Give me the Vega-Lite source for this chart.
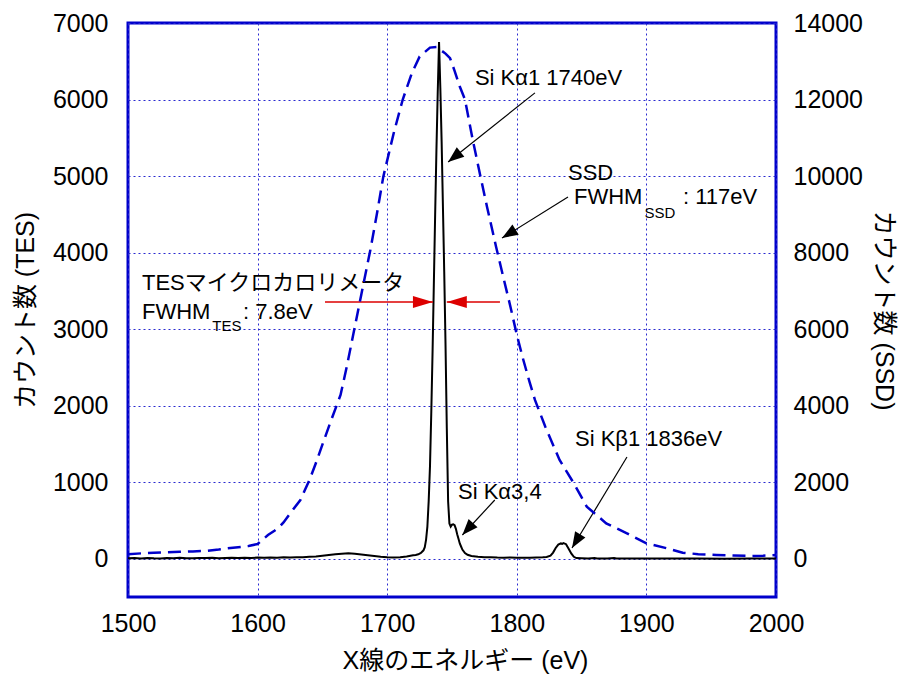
{
  "$schema": "https://vega.github.io/schema/vega-lite/v6.json",
  "width": 648,
  "height": 574,
  "autosize": "none",
  "padding": {"left": 128, "top": 23, "right": 122, "bottom": 80},
  "background": "white",
  "config": {
    "view": {"stroke": "#0000cc", "strokeWidth": 3},
    "font": "Liberation Sans, Noto Sans CJK JP",
    "axis": {
      "labelFont": "Liberation Sans",
      "labelFontSize": 25,
      "labelColor": "black",
      "labelFlush": false,
      "labelOverlap": false,
      "titleFont": "Liberation Sans, Noto Sans CJK JP",
      "titleFontSize": 25,
      "titleFontWeight": "normal",
      "titleColor": "black",
      "ticks": false,
      "tickSize": 0,
      "domain": false,
      "format": "d",
      "gridColor": "#2a2ad0",
      "gridDash": [2, 3],
      "gridWidth": 1,
      "gridOpacity": 1
    }
  },
  "datasets": {
    "tes": [
      {"E": 1500, "c": 5}, {"E": 1505, "c": 8}, {"E": 1510, "c": 3}, {"E": 1515, "c": 10}, {"E": 1520, "c": 6},
      {"E": 1525, "c": 4}, {"E": 1530, "c": 9}, {"E": 1535, "c": 5}, {"E": 1540, "c": 12}, {"E": 1545, "c": 7},
      {"E": 1550, "c": 5}, {"E": 1555, "c": 10}, {"E": 1560, "c": 8}, {"E": 1565, "c": 12}, {"E": 1570, "c": 6},
      {"E": 1575, "c": 10}, {"E": 1580, "c": 12}, {"E": 1585, "c": 8}, {"E": 1590, "c": 14}, {"E": 1595, "c": 10},
      {"E": 1600, "c": 15}, {"E": 1605, "c": 12}, {"E": 1610, "c": 16}, {"E": 1615, "c": 14}, {"E": 1620, "c": 18},
      {"E": 1625, "c": 15}, {"E": 1630, "c": 20}, {"E": 1635, "c": 18}, {"E": 1640, "c": 25}, {"E": 1645, "c": 30},
      {"E": 1650, "c": 40}, {"E": 1655, "c": 50}, {"E": 1660, "c": 60}, {"E": 1665, "c": 66}, {"E": 1670, "c": 70},
      {"E": 1675, "c": 65}, {"E": 1680, "c": 55}, {"E": 1685, "c": 45}, {"E": 1690, "c": 35}, {"E": 1695, "c": 25},
      {"E": 1700, "c": 18}, {"E": 1705, "c": 15}, {"E": 1710, "c": 20}, {"E": 1715, "c": 30}, {"E": 1720, "c": 45},
      {"E": 1722, "c": 50}, {"E": 1724, "c": 58}, {"E": 1726, "c": 75}, {"E": 1728, "c": 110}, {"E": 1729, "c": 150},
      {"E": 1730, "c": 250}, {"E": 1731, "c": 420}, {"E": 1732, "c": 750}, {"E": 1733, "c": 1200}, {"E": 1734, "c": 1900},
      {"E": 1735, "c": 2700}, {"E": 1736, "c": 3600}, {"E": 1737, "c": 4500}, {"E": 1738, "c": 5350}, {"E": 1739, "c": 6100},
      {"E": 1740, "c": 6750}, {"E": 1741, "c": 6150}, {"E": 1742, "c": 5450}, {"E": 1743, "c": 4600}, {"E": 1744, "c": 3750},
      {"E": 1745, "c": 2800}, {"E": 1746, "c": 1700}, {"E": 1747, "c": 750}, {"E": 1748, "c": 460}, {"E": 1749, "c": 420},
      {"E": 1750, "c": 445}, {"E": 1751, "c": 450}, {"E": 1752, "c": 440}, {"E": 1753, "c": 390}, {"E": 1754, "c": 320},
      {"E": 1755, "c": 260}, {"E": 1756, "c": 200}, {"E": 1757, "c": 160}, {"E": 1758, "c": 120}, {"E": 1760, "c": 75},
      {"E": 1762, "c": 52}, {"E": 1765, "c": 35}, {"E": 1770, "c": 25}, {"E": 1775, "c": 20}, {"E": 1780, "c": 18},
      {"E": 1785, "c": 15}, {"E": 1790, "c": 14}, {"E": 1795, "c": 15}, {"E": 1800, "c": 12}, {"E": 1805, "c": 14},
      {"E": 1810, "c": 12}, {"E": 1815, "c": 15}, {"E": 1820, "c": 18}, {"E": 1823, "c": 22}, {"E": 1826, "c": 40},
      {"E": 1828, "c": 80}, {"E": 1830, "c": 140}, {"E": 1832, "c": 185}, {"E": 1834, "c": 200}, {"E": 1835, "c": 195},
      {"E": 1836, "c": 205}, {"E": 1838, "c": 190}, {"E": 1840, "c": 130}, {"E": 1842, "c": 70}, {"E": 1844, "c": 25},
      {"E": 1846, "c": 8}, {"E": 1850, "c": 5}, {"E": 1855, "c": 3}, {"E": 1860, "c": 8}, {"E": 1862, "c": 2},
      {"E": 1865, "c": 4}, {"E": 1870, "c": 3}, {"E": 1875, "c": 8}, {"E": 1877, "c": 2}, {"E": 1880, "c": 3},
      {"E": 1890, "c": 2}, {"E": 1900, "c": 3}, {"E": 1920, "c": 2}, {"E": 1940, "c": 2}, {"E": 1960, "c": 1},
      {"E": 1980, "c": 2}, {"E": 2000, "c": 2}
    ],
    "ssd": [
      {"E": 1500, "c": 120}, {"E": 1510, "c": 140}, {"E": 1520, "c": 155}, {"E": 1530, "c": 167}, {"E": 1540, "c": 180},
      {"E": 1550, "c": 192}, {"E": 1560, "c": 205}, {"E": 1570, "c": 240}, {"E": 1577, "c": 272}, {"E": 1585, "c": 300},
      {"E": 1593, "c": 332}, {"E": 1600, "c": 384}, {"E": 1608, "c": 620}, {"E": 1613, "c": 730}, {"E": 1617, "c": 836},
      {"E": 1620, "c": 950}, {"E": 1625, "c": 1180}, {"E": 1633, "c": 1534}, {"E": 1640, "c": 2058}, {"E": 1645, "c": 2500},
      {"E": 1650, "c": 2980}, {"E": 1656, "c": 3550}, {"E": 1664, "c": 4280}, {"E": 1669, "c": 5050}, {"E": 1674, "c": 5892},
      {"E": 1680, "c": 6900}, {"E": 1687, "c": 8070}, {"E": 1692, "c": 9000}, {"E": 1697, "c": 9985}, {"E": 1705, "c": 11120},
      {"E": 1712, "c": 12000}, {"E": 1719, "c": 12689}, {"E": 1725, "c": 13122}, {"E": 1733, "c": 13357}, {"E": 1738, "c": 13370},
      {"E": 1741, "c": 13300}, {"E": 1745, "c": 13200}, {"E": 1748.5, "c": 13080}, {"E": 1752, "c": 12750}, {"E": 1756, "c": 12340},
      {"E": 1760, "c": 12000}, {"E": 1766, "c": 10945}, {"E": 1772, "c": 9985}, {"E": 1777, "c": 9201}, {"E": 1784, "c": 8155},
      {"E": 1790, "c": 7300}, {"E": 1795, "c": 6600}, {"E": 1800, "c": 5850}, {"E": 1805, "c": 5200}, {"E": 1810, "c": 4600},
      {"E": 1814, "c": 4150}, {"E": 1822, "c": 3450}, {"E": 1833, "c": 2580}, {"E": 1844, "c": 1971}, {"E": 1854, "c": 1360},
      {"E": 1869, "c": 925}, {"E": 1885, "c": 664}, {"E": 1900, "c": 402}, {"E": 1916, "c": 272}, {"E": 1928, "c": 157},
      {"E": 1940, "c": 120}, {"E": 1954, "c": 97}, {"E": 1967, "c": 85}, {"E": 1980, "c": 71}, {"E": 1990, "c": 80},
      {"E": 2000, "c": 97}
    ],
    "labels": [
      {"x": 1767.7, "y": 6283, "text": "Si Kα1 1740eV"},
      {"x": 1839.5, "y": 5041, "text": "SSD"},
      {"x": 1844.1, "y": 4727, "text": "FWHM"},
      {"x": 1928.2, "y": 4727, "text": ": 117eV"},
      {"x": 1510.8, "y": 3603, "text": "TESマイクロカロリメータ"},
      {"x": 1510.8, "y": 3224, "text": "FWHM"},
      {"x": 1588.7, "y": 3224, "text": ": 7.8eV"},
      {"x": 1754.6, "y": 872, "text": "Si Kα3,4"},
      {"x": 1844.9, "y": 1565, "text": "Si Kβ1 1836eV"}
    ],
    "subs": [
      {"x": 1898.5, "y": 4518, "text": "SSD"},
      {"x": 1565.0, "y": 3041, "text": "TES"}
    ],
    "arrows": [
      {"id": "ka1", "x": 1814, "y": 6087, "x2": 1747, "y2": 5183},
      {"id": "ssd", "x": 1839.5, "y": 4725, "x2": 1788.6, "y2": 4190},
      {"id": "ka34", "x": 1783, "y": 767, "x2": 1758, "y2": 310},
      {"id": "kb1", "x": 1885, "y": 1329, "x2": 1842.6, "y2": 140}
    ],
    "redarrows": [
      {"id": "left", "x": 1652, "y": 3355, "x2": 1735.3, "y2": 3355},
      {"id": "right", "x": 1787, "y": 3355, "x2": 1746, "y2": 3355}
    ]
  },
  "layer": [
    {
      "layer": [
        {
          "data": {"name": "tes"},
          "mark": {"type": "line", "color": "black", "strokeWidth": 2},
          "encoding": {
            "x": {"field": "E", "type": "quantitative", "scale": {"domain": [1500, 2000], "nice": false},
              "axis": {"orient": "bottom", "values": [1500, 1600, 1700, 1800, 1900, 2000], "grid": true, "labelPadding": 14,
                "title": "X線のエネルギー (eV)", "titleX": 337, "titleY": 63, "titleAlign": "center", "titleBaseline": "middle"}},
            "y": {"field": "c", "type": "quantitative", "scale": {"domain": [-500, 7000], "nice": false, "zero": false},
              "axis": {"orient": "left", "values": [0, 1000, 2000, 3000, 4000, 5000, 6000, 7000], "grid": true, "labelPadding": 20,
                "title": "カウント数 (TES)", "titleX": -103, "titleY": 287, "titleAngle": -90, "titleAlign": "center", "titleBaseline": "middle"}}
          }
        },
        {
          "data": {"name": "arrows"},
          "mark": {"type": "rule", "color": "black", "strokeWidth": 1.2},
          "encoding": {
            "x": {"field": "x", "type": "quantitative", "scale": {"domain": [1500, 2000], "nice": false}},
            "y": {"field": "y", "type": "quantitative", "scale": {"domain": [-500, 7000], "nice": false, "zero": false}},
            "x2": {"field": "x2"},
            "y2": {"field": "y2"}
          }
        },
        {
          "data": {"name": "redarrows"},
          "mark": {"type": "rule", "color": "#dd0000", "strokeWidth": 1.5},
          "encoding": {
            "x": {"field": "x", "type": "quantitative", "scale": {"domain": [1500, 2000], "nice": false}},
            "y": {"field": "y", "type": "quantitative", "scale": {"domain": [-500, 7000], "nice": false, "zero": false}},
            "x2": {"field": "x2"},
            "y2": {"field": "y2"}
          }
        },
        {
          "data": {"name": "arrows"},
          "transform": [{"filter": "datum.id == 'ka1'"}],
          "mark": {"type": "point", "shape": "M0,0L-0.375,1L0.375,1Z", "filled": true, "color": "black", "opacity": 1, "strokeWidth": 0, "size": 1024, "angle": 231},
          "encoding": {
            "x": {"field": "x2", "type": "quantitative", "scale": {"domain": [1500, 2000], "nice": false}},
            "y": {"field": "y2", "type": "quantitative", "scale": {"domain": [-500, 7000], "nice": false, "zero": false}}
          }
        },
        {
          "data": {"name": "arrows"},
          "transform": [{"filter": "datum.id == 'ssd'"}],
          "mark": {"type": "point", "shape": "M0,0L-0.375,1L0.375,1Z", "filled": true, "color": "black", "opacity": 1, "strokeWidth": 0, "size": 1024, "angle": 238},
          "encoding": {
            "x": {"field": "x2", "type": "quantitative", "scale": {"domain": [1500, 2000], "nice": false}},
            "y": {"field": "y2", "type": "quantitative", "scale": {"domain": [-500, 7000], "nice": false, "zero": false}}
          }
        },
        {
          "data": {"name": "arrows"},
          "transform": [{"filter": "datum.id == 'ka34'"}],
          "mark": {"type": "point", "shape": "M0,0L-0.375,1L0.375,1Z", "filled": true, "color": "black", "opacity": 1, "strokeWidth": 0, "size": 1024, "angle": 222},
          "encoding": {
            "x": {"field": "x2", "type": "quantitative", "scale": {"domain": [1500, 2000], "nice": false}},
            "y": {"field": "y2", "type": "quantitative", "scale": {"domain": [-500, 7000], "nice": false, "zero": false}}
          }
        },
        {
          "data": {"name": "arrows"},
          "transform": [{"filter": "datum.id == 'kb1'"}],
          "mark": {"type": "point", "shape": "M0,0L-0.375,1L0.375,1Z", "filled": true, "color": "black", "opacity": 1, "strokeWidth": 0, "size": 1024, "angle": 211},
          "encoding": {
            "x": {"field": "x2", "type": "quantitative", "scale": {"domain": [1500, 2000], "nice": false}},
            "y": {"field": "y2", "type": "quantitative", "scale": {"domain": [-500, 7000], "nice": false, "zero": false}}
          }
        },
        {
          "data": {"name": "redarrows"},
          "transform": [{"filter": "datum.id == 'left'"}],
          "mark": {"type": "point", "shape": "M0,0L-0.3,1L0.3,1Z", "filled": true, "color": "#dd0000", "opacity": 1, "strokeWidth": 0, "size": 1600, "angle": 90},
          "encoding": {
            "x": {"field": "x2", "type": "quantitative", "scale": {"domain": [1500, 2000], "nice": false}},
            "y": {"field": "y2", "type": "quantitative", "scale": {"domain": [-500, 7000], "nice": false, "zero": false}}
          }
        },
        {
          "data": {"name": "redarrows"},
          "transform": [{"filter": "datum.id == 'right'"}],
          "mark": {"type": "point", "shape": "M0,0L-0.3,1L0.3,1Z", "filled": true, "color": "#dd0000", "opacity": 1, "strokeWidth": 0, "size": 1600, "angle": 270},
          "encoding": {
            "x": {"field": "x2", "type": "quantitative", "scale": {"domain": [1500, 2000], "nice": false}},
            "y": {"field": "y2", "type": "quantitative", "scale": {"domain": [-500, 7000], "nice": false, "zero": false}}
          }
        },
        {
          "data": {"name": "labels"},
          "mark": {"type": "text", "align": "left", "baseline": "middle", "fontSize": 22, "color": "black", "font": "Liberation Sans, Noto Sans CJK JP"},
          "encoding": {
            "x": {"field": "x", "type": "quantitative", "scale": {"domain": [1500, 2000], "nice": false}},
            "y": {"field": "y", "type": "quantitative", "scale": {"domain": [-500, 7000], "nice": false, "zero": false}},
            "text": {"field": "text"}
          }
        },
        {
          "data": {"name": "subs"},
          "mark": {"type": "text", "align": "left", "baseline": "middle", "fontSize": 15, "color": "black", "font": "Liberation Sans"},
          "encoding": {
            "x": {"field": "x", "type": "quantitative", "scale": {"domain": [1500, 2000], "nice": false}},
            "y": {"field": "y", "type": "quantitative", "scale": {"domain": [-500, 7000], "nice": false, "zero": false}},
            "text": {"field": "text"}
          }
        }
      ]
    },
    {
      "data": {"name": "ssd"},
      "mark": {"type": "line", "color": "#0000cc", "strokeWidth": 2.5, "strokeDash": [13, 7]},
      "encoding": {
        "x": {"field": "E", "type": "quantitative", "scale": {"domain": [1500, 2000], "nice": false}},
        "y": {"field": "c", "type": "quantitative", "scale": {"domain": [-1000, 14000], "nice": false, "zero": false},
          "axis": {"orient": "right", "values": [0, 2000, 4000, 6000, 8000, 10000, 12000, 14000], "grid": false, "labelPadding": 17,
            "title": "カウント数 (SSD)", "titleX": 107, "titleY": 287, "titleAngle": 90, "titleAlign": "center", "titleBaseline": "middle"}}
      }
    }
  ],
  "resolve": {"scale": {"y": "independent"}}
}
